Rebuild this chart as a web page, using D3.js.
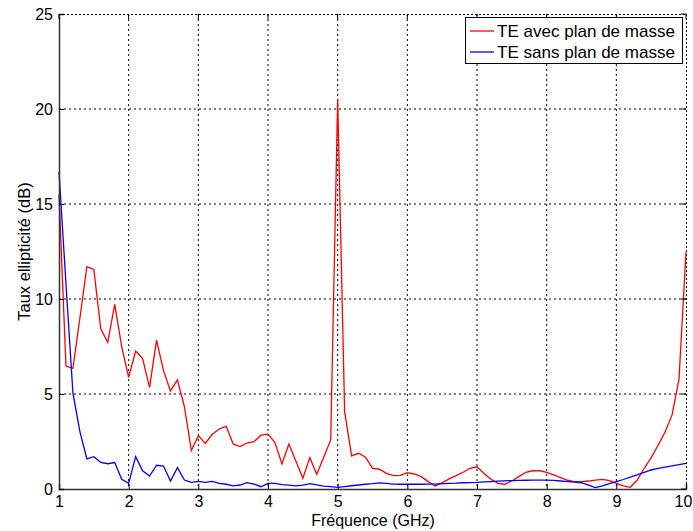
<!DOCTYPE html>
<html>
<head>
<meta charset="utf-8">
<script src="https://cdn.jsdelivr.net/npm/d3@7"></script>
<style>
  body { margin: 0; background: #fff; }
  svg { display: block; }
  text { font-family: "Liberation Sans", Arial, sans-serif; fill: #000; }
</style>
</head>
<body>
<svg id="chart" width="693" height="531"></svg>
<script>
const freq = d3.range(0, 91).map(i => +(1 + i * 0.1).toFixed(1));
const avecPlan = [
  15.5, 6.47, 6.35, 9.0, 11.7, 11.56, 8.42, 7.72, 9.72, 7.49,
  5.88, 7.26, 6.86, 5.35, 7.84, 6.23, 5.16, 5.74, 4.33, 2.02,
  2.81, 2.40, 2.88, 3.16, 3.30, 2.37, 2.23, 2.42, 2.49, 2.83,
  2.89, 2.44, 1.32, 2.37, 1.47, 0.56, 1.65, 0.77, 1.67, 2.58,
  20.5, 4.07, 1.74, 1.88, 1.67, 1.09, 1.04, 0.82, 0.70, 0.72,
  0.86, 0.79, 0.65, 0.39, 0.16, 0.33, 0.53, 0.70, 0.88, 1.09,
  1.17, 0.82, 0.51, 0.30, 0.25, 0.42, 0.65, 0.88, 0.96, 0.96,
  0.88, 0.74, 0.60, 0.46, 0.39, 0.39, 0.42, 0.47, 0.51, 0.44,
  0.30, 0.16, 0.09, 0.47, 1.09, 1.65, 2.3, 3.0, 3.9, 5.8,
  12.5
];
const sansPlan = [
  16.7, 10.8, 5.04, 3.02, 1.58, 1.70, 1.40, 1.33, 1.39, 0.51,
  0.30, 1.70, 0.96, 0.68, 1.25, 1.21, 0.42, 1.12, 0.47, 0.35,
  0.40, 0.35, 0.40, 0.30, 0.25, 0.16, 0.21, 0.33, 0.26, 0.12,
  0.30, 0.30, 0.23, 0.20, 0.16, 0.20, 0.28, 0.22, 0.15, 0.12,
  0.09, 0.13, 0.17, 0.21, 0.25, 0.28, 0.32, 0.30, 0.26, 0.25,
  0.25, 0.25, 0.25, 0.26, 0.26, 0.28, 0.30, 0.31, 0.33, 0.34,
  0.35, 0.37, 0.39, 0.41, 0.43, 0.44, 0.45, 0.46, 0.47, 0.47,
  0.47, 0.45, 0.42, 0.39, 0.36, 0.33, 0.20, 0.07, 0.17, 0.28,
  0.39, 0.50, 0.62, 0.74, 0.87, 1.00, 1.08, 1.15, 1.22, 1.28,
  1.35
];
const xTicks = [1, 2, 3, 4, 5, 6, 7, 8, 9, 10];
const yTicks = [0, 5, 10, 15, 20, 25];
const seriesNames = ["TE avec plan de masse", "TE sans plan de masse"];
const seriesColors = ["#ff0000", "#0000ff"];

const L = 59, R = 686, T = 14, B = 489;
const svg = d3.select("#chart");
const x = d3.scaleLinear().domain([1, 10]).range([L, R]);
const y = d3.scaleLinear().domain([0, 25]).range([B, T]);

// grid
const grid = svg.append("g");
grid.selectAll("line.gx").data(xTicks.slice(1, -1)).enter().append("line")
  .attr("x1", d => x(d)).attr("x2", d => x(d)).attr("y1", T).attr("y2", B)
  .attr("stroke", "#000").attr("stroke-width", 1).attr("stroke-dasharray", "2,3");
grid.selectAll("line.gy").data(yTicks.slice(1, -1)).enter().append("line")
  .attr("y1", d => y(d)).attr("y2", d => y(d)).attr("x1", L).attr("x2", R)
  .attr("stroke", "#000").attr("stroke-width", 1).attr("stroke-dasharray", "2,3");

// top & right dotted frame
svg.append("line").attr("x1", L).attr("x2", R).attr("y1", T + 0.5).attr("y2", T + 0.5)
  .attr("stroke", "#000").attr("stroke-dasharray", "2,2");
svg.append("line").attr("x1", R + 0.5).attr("x2", R + 0.5).attr("y1", T).attr("y2", B)
  .attr("stroke", "#000").attr("stroke-dasharray", "2,2");

// lines
const line = d3.line().x((d, i) => x(freq[i])).y(d => y(d));
svg.append("path").datum(avecPlan).attr("d", line)
  .attr("fill", "none").attr("stroke", seriesColors[0]).attr("stroke-width", 1.3);
svg.append("path").datum(sansPlan).attr("d", line)
  .attr("fill", "none").attr("stroke", seriesColors[1]).attr("stroke-width", 1.3);

// axes
const xAxis = d3.axisBottom(x).tickValues(xTicks).tickSize(-5).tickPadding(7).tickFormat(d3.format("d"));
const gx = svg.append("g").attr("transform", `translate(0,${B})`).call(xAxis);
gx.select(".domain").attr("stroke", "#333").attr("stroke-width", 1.5);
gx.selectAll("text").style("font-size", "16px").attr("font-family", "Liberation Sans, Arial, sans-serif");
gx.selectAll("line").attr("stroke", "#000");
gx.selectAll(".tick").filter(d => d === 10).select("text").attr("dx", "-3");

const yAxis = d3.axisLeft(y).tickValues(yTicks).tickSize(-5).tickPadding(6).tickFormat(d3.format("d"));
const gy = svg.append("g").attr("transform", `translate(${L},0)`).call(yAxis);
gy.select(".domain").attr("stroke", "#333").attr("stroke-width", 1.5);
gy.selectAll("text").style("font-size", "16px").attr("font-family", "Liberation Sans, Arial, sans-serif");
gy.selectAll("line").attr("stroke", "#000");

// top and right ticks
svg.selectAll("line.tt").data(xTicks).enter().append("line")
  .attr("x1", d => x(d)).attr("x2", d => x(d)).attr("y1", T).attr("y2", T + 5).attr("stroke", "#000");
svg.selectAll("line.rt").data(yTicks).enter().append("line")
  .attr("y1", d => y(d)).attr("y2", d => y(d)).attr("x1", R - 5).attr("x2", R).attr("stroke", "#000");

// axis labels
svg.append("text").attr("x", 373).attr("y", 526).attr("text-anchor", "middle")
  .style("font-size", "16px").text("Fréquence (GHz)");
svg.append("text").attr("transform", `translate(30,${(T + B) / 2}) rotate(-90)`)
  .attr("text-anchor", "middle").style("font-size", "16.5px").text("Taux ellipticité (dB)");

// legend
const lg = svg.append("g");
lg.append("rect").attr("x", 465.5).attr("y", 17.5).attr("width", 217).attr("height", 46)
  .attr("fill", "#fff").attr("stroke", "#000").attr("stroke-width", 1);
seriesNames.forEach((name, i) => {
  const yy = 31 + i * 21;
  lg.append("line").attr("x1", 470).attr("x2", 494).attr("y1", yy).attr("y2", yy)
    .attr("stroke", seriesColors[i]).attr("stroke-width", 1.3);
  lg.append("text").attr("x", 497).attr("y", yy + 6).style("font-size", "17px")
    .attr("textLength", 178).attr("lengthAdjust", "spacingAndGlyphs").text(name);
});
</script>
</body>
</html>
